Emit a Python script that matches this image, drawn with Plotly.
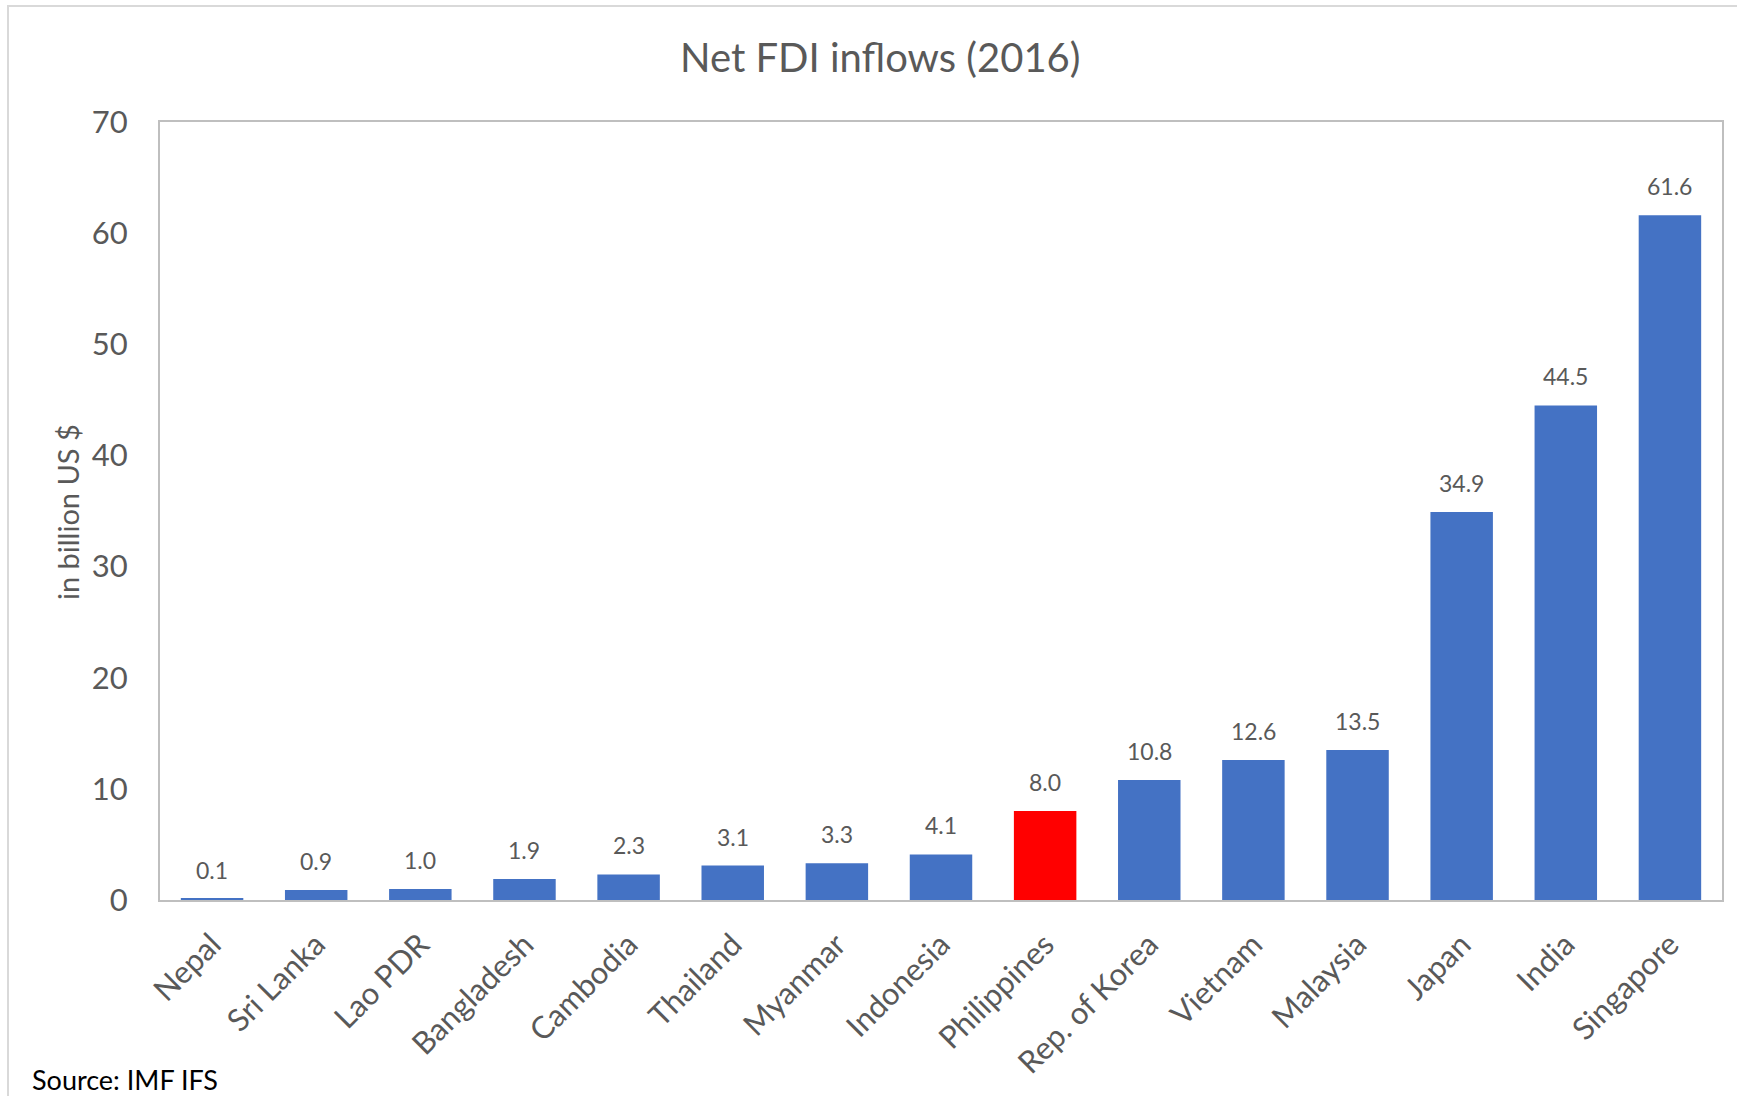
import plotly.graph_objects as go

# Net FDI inflows in 2016, billion US $
countries = ["Nepal", "Sri Lanka", "Lao PDR", "Bangladesh", "Cambodia", "Thailand",
             "Myanmar", "Indonesia", "Philippines", "Rep. of Korea", "Vietnam",
             "Malaysia", "Japan", "India", "Singapore"]
fdi_inflows = [0.1, 0.9, 1.0, 1.9, 2.3, 3.1, 3.3, 4.1, 8.0, 10.8, 12.6, 13.5, 34.9, 44.5, 61.6]
highlight = "Philippines"
y_ticks = [0, 10, 20, 30, 40, 50, 60, 70]

W, H = 1737, 1096
ML, MR, MT, MB = 160, 15, 122, 196
PW, PH = W - ML - MR, H - MT - MB

FONT = "Lato"
GREY = "#595959"
BLUE = "#4472C4"
RED = "#FF0000"


def px_x(x):
    return (x - ML) / PW


def px_y(y):
    return (H - MB - y) / PH


bar_colors = [RED if c == highlight else BLUE for c in countries]

fig = go.Figure()
fig.add_trace(go.Bar(
    x=countries,
    y=fdi_inflows,
    marker=dict(color=bar_colors, line=dict(width=0)),
    hoverinfo="x+y",
))

annotations = []
# value labels above each bar
for c, v in zip(countries, fdi_inflows):
    annotations.append(dict(
        x=c, y=v, xref="x", yref="y", text=f"{v:.1f}", showarrow=False,
        yanchor="bottom", yshift=13,
        font=dict(family=FONT, size=23, color=GREY),
    ))

# chart title
annotations.append(dict(
    x=px_x(880), y=px_y(57), xref="paper", yref="paper",
    text="Net FDI inflows (2016)", showarrow=False,
    xanchor="center", yanchor="middle",
    font=dict(family=FONT, size=40, color=GREY),
))

# y-axis title
annotations.append(dict(
    x=px_x(68), y=px_y(512), xref="paper", yref="paper",
    text="in billion US $", showarrow=False, textangle=-90,
    xanchor="center", yanchor="middle",
    font=dict(family=FONT, size=29, color=GREY),
))

# source note
annotations.append(dict(
    x=px_x(30), y=px_y(1079), xref="paper", yref="paper",
    text="Source: IMF IFS", showarrow=False,
    xanchor="left", yanchor="middle",
    font=dict(family=FONT, size=27, color="#000000"),
))

fig.update_layout(
    width=W, height=H,
    margin=dict(l=ML, r=MR, t=MT, b=MB, pad=0),
    paper_bgcolor="white", plot_bgcolor="white",
    bargap=0.4,
    showlegend=False,
    annotations=annotations,
    shapes=[dict(
        type="rect", xref="paper", yref="paper",
        x0=px_x(8), x1=px_x(W + 10), y0=px_y(H + 10), y1=px_y(6),
        line=dict(color="#d9d9d9", width=2), fillcolor="rgba(0,0,0,0)",
        layer="below",
    )],
)

fig.update_xaxes(
    type="category",
    tickangle=-45,
    tickfont=dict(family=FONT, size=31, color=GREY),
    showline=True, linecolor="#bfbfbf", linewidth=2, mirror=True,
    showgrid=False, ticks="", ticklabelstandoff=12,
    automargin=False,
)

fig.update_yaxes(
    range=[0, 70],
    tickvals=y_ticks,
    tickfont=dict(family=FONT, size=31, color=GREY),
    showline=True, linecolor="#bfbfbf", linewidth=2, mirror=True,
    showgrid=False, zeroline=False, ticks="", ticklabelstandoff=24,
    automargin=False,
)

fig.write_html("out.html")
